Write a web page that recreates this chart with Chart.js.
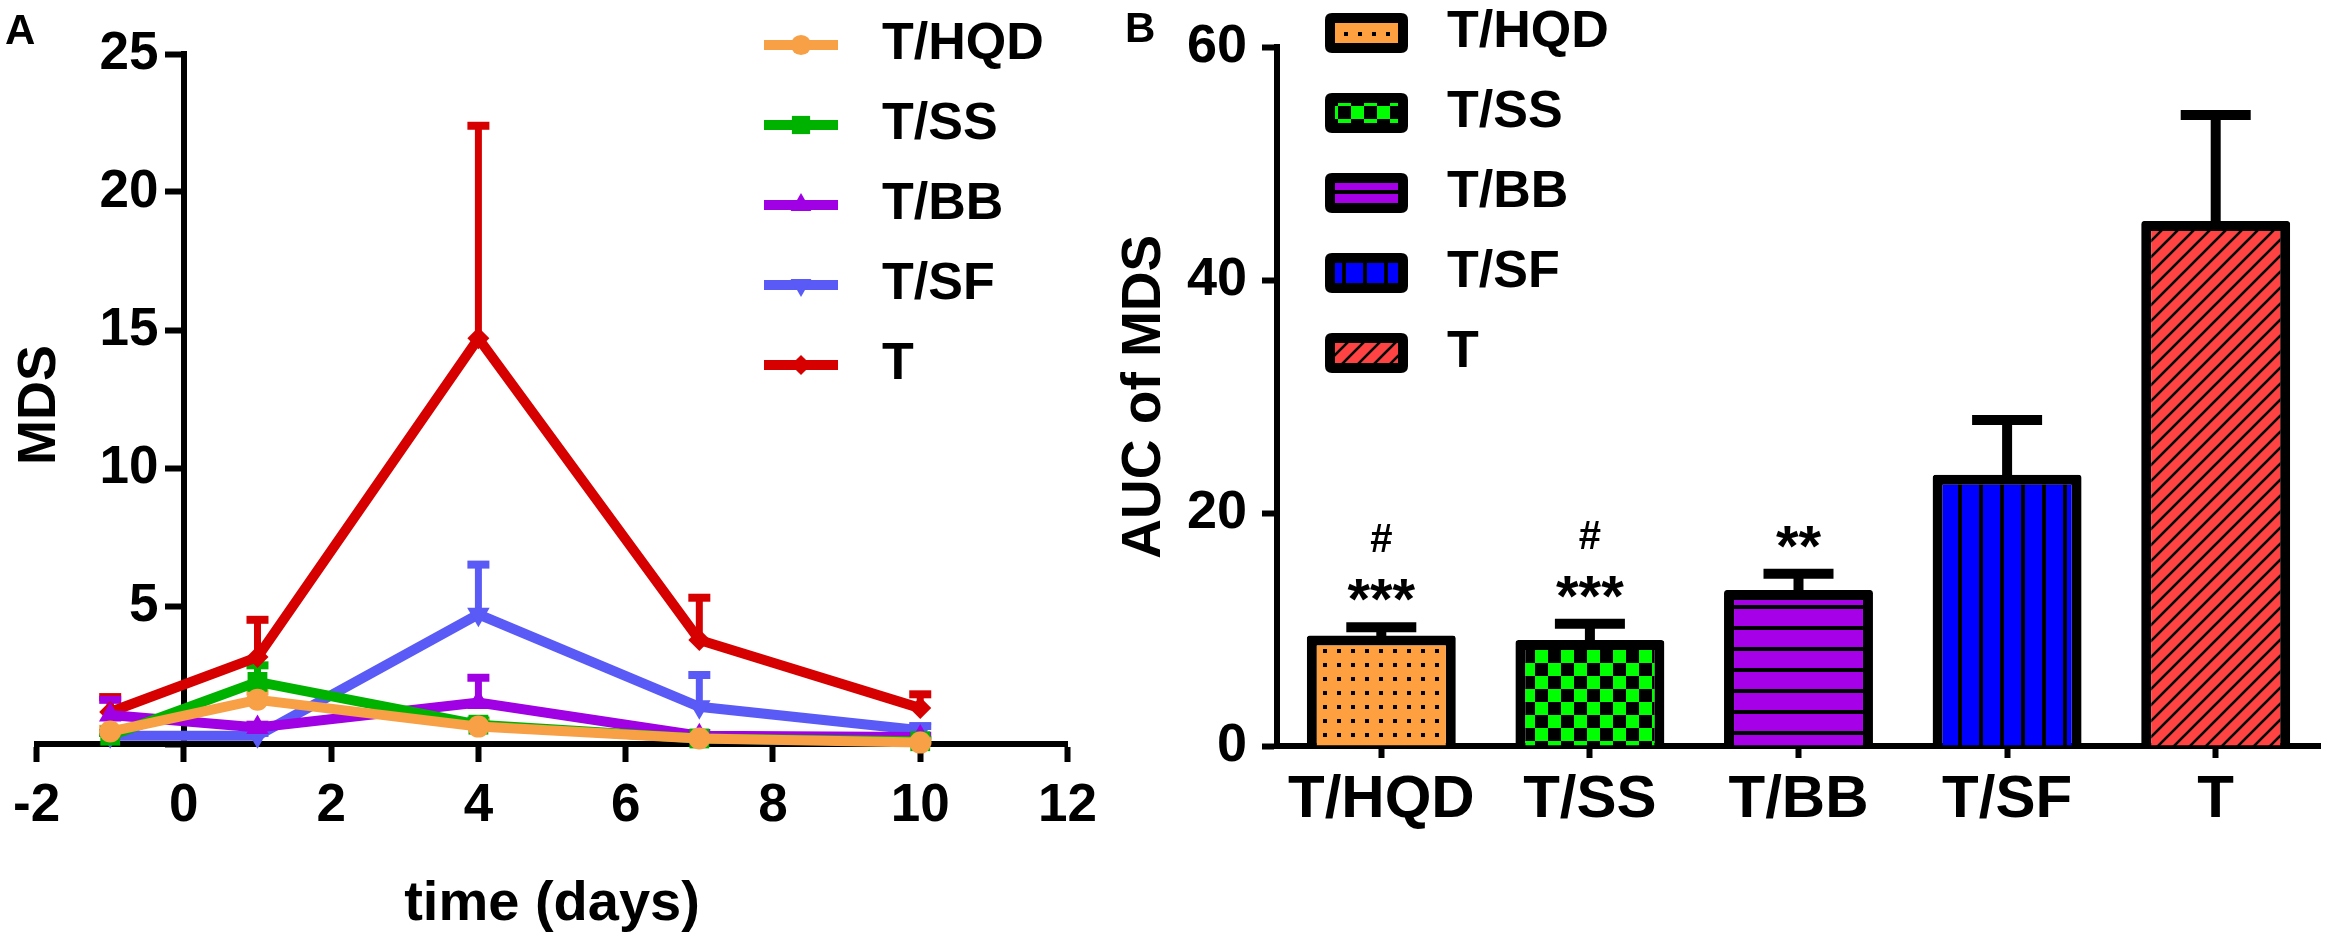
<!DOCTYPE html>
<html><head><meta charset="utf-8">
<script src="https://cdn.jsdelivr.net/npm/chart.js@4.4.1/dist/chart.umd.min.js"></script>
<style>
html,body{margin:0;padding:0;background:#fff;width:2333px;height:948px;overflow:hidden;}
#wrap{position:relative;width:2333px;height:948px;font-family:"Liberation Sans",Arial,sans-serif;color:#000;}
canvas{position:absolute;top:0;}
#cA{left:0;}
#cB{left:1080px;}
.lbl{position:absolute;font-weight:bold;line-height:1;white-space:nowrap;}
</style></head><body>
<div id="wrap">
<canvas id="cA" width="1110" height="948"></canvas>
<canvas id="cB" width="1253" height="948"></canvas>
<div class="lbl" style="left:5px;top:9px;font-size:42px;">A</div>
<div class="lbl" style="left:1125px;top:7px;font-size:42px;">B</div>
<div class="lbl" style="left:36px;top:405px;font-size:54px;transform:translate(-50%,-50%) rotate(-90deg);">MDS</div>
</div>
<script>
// ---------- data ----------
const days = [-1, 1, 4, 7, 10];
const seriesNames = ['T/HQD', 'T/SS', 'T/BB', 'T/SF', 'T'];
const mdsHQD = [0.45, 1.6, 0.63, 0.2, 0.05];
const mdsSS  = [0.3, 2.25, 0.7, 0.2, 0.1];
const mdsBB  = [1.05, 0.6, 1.5, 0.3, 0.25];
const mdsSF  = [0.3, 0.3, 4.7, 1.35, 0.5];
const mdsT   = [1.16, 3.15, 14.7, 3.77, 1.3];
const semHQD = [0.1, 0.3, 0.15, 0.1, 0.05];
const semSS  = [0.1, 0.6, 0.15, 0.1, 0.05];
const semBB  = [0.55, 0.1, 0.9, 0.1, 0.05];
const semSF  = [0.1, 0.1, 1.8, 1.15, 0.15];
const semT   = [0.54, 1.35, 7.7, 1.53, 0.5];
const xTicksA = [-2, 0, 2, 4, 6, 8, 10, 12];
const yTicksA = [0, 5, 10, 15, 20, 25];

const aucGroups = ['T/HQD', 'T/SS', 'T/BB', 'T/SF', 'T'];
const aucMean = [9.5, 9.1, 13.4, 23.3, 45.1];
const aucSEM  = [0.7, 1.4, 1.4, 4.7, 9.1];
const aucMarks = [['***', '#'], ['***', '#'], ['**'], [], []];
const yTicksB = [0, 20, 40, 60];

// ---------- styles ----------
const FONT = "'Liberation Sans', Arial, sans-serif";
Chart.defaults.font.family = FONT;
Chart.defaults.color = '#000';
const seriesA = [mdsHQD, mdsSS, mdsBB, mdsSF, mdsT];
const semA = [semHQD, semSS, semBB, semSF, semT];
const colorsA = ['#F8A046', '#00B200', '#A000E4', '#5A5AF6', '#D70000'];
const ptStyles = ['circle', 'rect', 'triangle', 'triangle', 'rectRot'];
const ptRot = [0, 0, 0, 180, 0];
const ptRad = [11, 14, 13, 13, 11];

function drawMarker(g, style, rot, r, x, y, color) {
  g.fillStyle = color; g.beginPath();
  if (style === 'circle') g.arc(x, y, r, 0, Math.PI * 2);
  else if (style === 'rect') { const s = r * Math.SQRT1_2; g.rect(x - s, y - s, 2 * s, 2 * s); }
  else if (style === 'rectRot') { g.moveTo(x, y - r); g.lineTo(x + r, y); g.lineTo(x, y + r); g.lineTo(x - r, y); }
  else if (style === 'triangle') {
    const a0 = rot * Math.PI / 180;
    for (let k = 0; k < 3; k++) {
      const a = a0 + k * 2 * Math.PI / 3;
      const px = x + Math.sin(a) * r, py = y - Math.cos(a) * r;
      if (k === 0) g.moveTo(px, py); else g.lineTo(px, py);
    }
  }
  g.closePath(); g.fill();
}
const legendImgsA = colorsA.map((c, i) => {
  const cv = document.createElement('canvas'); cv.width = 92; cv.height = 30;
  const g = cv.getContext('2d');
  g.fillStyle = c; g.fillRect(0, 10, 74, 10);
  drawMarker(g, ptStyles[i], ptRot[i], ptRad[i] * 0.92, 37, 15, c);
  return cv;
});

function makePattern(kind, color) {
  const cv = document.createElement('canvas');
  const g = cv.getContext('2d');
  if (kind === 'dots') { cv.width = 14; cv.height = 14; g.fillStyle = color; g.fillRect(0, 0, 14, 14); g.fillStyle = '#000'; g.fillRect(5, 5, 4, 4); }
  else if (kind === 'checker') { cv.width = 26; cv.height = 26; g.fillStyle = color; g.fillRect(0, 0, 26, 26); g.fillStyle = '#000'; g.fillRect(0, 0, 13, 13); g.fillRect(13, 13, 13, 13); }
  else if (kind === 'hlines') { cv.width = 8; cv.height = 21; g.fillStyle = color; g.fillRect(0, 0, 8, 21); g.fillStyle = '#000'; g.fillRect(0, 17, 8, 4); }
  else if (kind === 'vlines') { cv.width = 21; cv.height = 8; g.fillStyle = color; g.fillRect(0, 0, 21, 8); g.fillStyle = '#000'; g.fillRect(17, 0, 4, 8); }
  else if (kind === 'diag') {
    cv.width = 16; cv.height = 16; g.fillStyle = color; g.fillRect(0, 0, 16, 16);
    g.strokeStyle = '#000'; g.lineWidth = 2.6; g.beginPath();
    g.moveTo(-4, 20); g.lineTo(20, -4); g.moveTo(-12, 12); g.lineTo(12, -12); g.moveTo(4, 28); g.lineTo(28, 4); g.stroke();
  }
  return g.createPattern(cv, 'repeat');
}
const patKinds = ['dots', 'checker', 'hlines', 'vlines', 'diag'];
const colorsB = ['#FFA040', '#00FF00', '#A600E8', '#0000FF', '#FF4343'];
const patternsB = patKinds.map((k, i) => makePattern(k, colorsB[i]));

function roundRect(g, x, y, w, h, r) {
  g.beginPath(); g.moveTo(x + r, y); g.lineTo(x + w - r, y); g.quadraticCurveTo(x + w, y, x + w, y + r);
  g.lineTo(x + w, y + h - r); g.quadraticCurveTo(x + w, y + h, x + w - r, y + h); g.lineTo(x + r, y + h);
  g.quadraticCurveTo(x, y + h, x, y + h - r); g.lineTo(x, y + r); g.quadraticCurveTo(x, y, x + r, y); g.closePath();
}
const legendImgsB = patKinds.map((k, i) => {
  const cv = document.createElement('canvas'); cv.width = 96; cv.height = 40;
  const g = cv.getContext('2d');
  g.fillStyle = '#000'; roundRect(g, 0, 0, 83, 40, 7); g.fill();
  g.fillStyle = makePattern(k, colorsB[i]); g.fillRect(10, 10, 63, 20);
  return cv;
});

function legendMover(left, top) {
  return { id: 'legendMover', afterLayout(chart) {
    const l = chart.legend; if (!l) return;
    l.left = left; l.top = top; l.width = 700; l.height = 600; l.right = left + 700; l.bottom = top + 600;
  } };
}

const errA = { id: 'errA', beforeDatasetsDraw(chart) {
  const { ctx, scales: { x, y } } = chart;
  ctx.save();
  for (let i = seriesA.length - 1; i >= 0; i--) {
    ctx.strokeStyle = colorsA[i];
    days.forEach((d, j) => {
      const px = x.getPixelForValue(d);
      const p0 = y.getPixelForValue(seriesA[i][j]);
      const p1 = y.getPixelForValue(seriesA[i][j] + semA[i][j]);
      ctx.lineWidth = 7; ctx.beginPath(); ctx.moveTo(px, p0); ctx.lineTo(px, p1); ctx.stroke();
      ctx.lineWidth = 8; ctx.beginPath(); ctx.moveTo(px - 11, p1); ctx.lineTo(px + 11, p1); ctx.stroke();
    });
  }
  ctx.restore();
} };

const errB = { id: 'errB', afterDatasetsDraw(chart) {
  const { ctx, scales: { x, y } } = chart;
  ctx.save(); ctx.strokeStyle = '#000'; ctx.fillStyle = '#000'; ctx.textAlign = 'center'; ctx.textBaseline = 'alphabetic';
  aucMean.forEach((m, i) => {
    const px = x.getPixelForValue(i);
    const base = y.getPixelForValue(m);
    const top = y.getPixelForValue(m + aucSEM[i]);
    ctx.lineWidth = 10;
    ctx.beginPath(); ctx.moveTo(px, base + 5); ctx.lineTo(px, top); ctx.stroke();
    ctx.beginPath(); ctx.moveTo(px - 35, top); ctx.lineTo(px + 35, top); ctx.stroke();
    let cy = top - 41;
    aucMarks[i].forEach(mk => {
      if (mk === '#') { ctx.font = 'bold 40px ' + FONT; ctx.fillText(mk, px, cy + 14); }
      else { ctx.font = 'bold 58px ' + FONT; ctx.fillText(mk, px, cy + 33); }
      cy -= 48;
    });
  });
  ctx.restore();
} };

const tickFontA = { size: 53, weight: 'bold' };

// ---------- chart A ----------
new Chart(document.getElementById('cA'), {
  type: 'line',
  data: { datasets: seriesA.map((arr, i) => ({
    label: seriesNames[i],
    data: days.map((d, j) => ({ x: d, y: arr[j] })),
    borderColor: colorsA[i], backgroundColor: colorsA[i], borderWidth: 10,
    pointStyle: ptStyles[i], pointRotation: ptRot[i], pointRadius: ptRad[i],
    pointBorderWidth: 0, pointBackgroundColor: colorsA[i], tension: 0, clip: false
  })) },
  options: {
    responsive: false, devicePixelRatio: 1, animation: false,
    layout: { padding: { left: 0, right: 40, top: 54, bottom: 0 } },
    plugins: {
      tooltip: { enabled: false },
      legend: { position: 'chartArea', align: 'start',
        labels: { usePointStyle: true, pointStyleWidth: 92, padding: 28, color: '#000',
          font: { size: 52, weight: 'bold' },
          generateLabels: (chart) => chart.data.datasets.map((ds, i) => ({
            text: ds.label, pointStyle: legendImgsA[i], fillStyle: ds.borderColor,
            strokeStyle: ds.borderColor, lineWidth: 0, hidden: false, datasetIndex: i })) } }
    },
    scales: {
      x: { type: 'linear', position: 'bottom', min: xTicksA[0], max: xTicksA[xTicksA.length - 1],
        afterBuildTicks: (s) => { s.ticks = xTicksA.map(v => ({ value: v })); },
        ticks: { font: tickFontA, color: '#000', padding: 13, maxRotation: 0, autoSkip: false },
        grid: { drawOnChartArea: false, tickLength: 18, tickWidth: 6, tickColor: '#000' },
        border: { color: '#000', width: 6 },
        title: { display: true, text: 'time (days)', color: '#000', font: { size: 56, weight: 'bold' }, padding: { top: 0, bottom: 10 } },
        afterFit: (s) => { s.height = 204; } },
      y: { type: 'linear', position: { x: 0 }, min: yTicksA[0], max: yTicksA[yTicksA.length - 1],
        afterBuildTicks: (s) => { s.ticks = yTicksA.map(v => ({ value: v })); },
        ticks: { display: false },
        grid: { drawOnChartArea: false, tickLength: 16, tickWidth: 6, tickColor: '#000' },
        border: { color: '#000', width: 6 } },
      yLabels: { axis: 'y', type: 'linear', position: 'left', min: yTicksA[0], max: yTicksA[yTicksA.length - 1],
        afterBuildTicks: (s) => { s.ticks = yTicksA.map(v => ({ value: v })); },
        ticks: { font: tickFontA, color: '#000', mirror: true, crossAlign: 'far', padding: 63, autoSkip: false,
          callback: (v) => v === 0 ? '' : String(v) },
        grid: { display: false, drawTicks: false },
        border: { display: false },
        afterFit: (s) => { s.width = 28; s.paddingTop = 0; s.paddingBottom = 0; } }
    }
  },
  plugins: [errA, legendMover(736, -9)]
});

// ---------- chart B ----------
new Chart(document.getElementById('cB'), {
  type: 'bar',
  data: { labels: aucGroups, datasets: [{ label: 'AUC of MDS', data: aucMean,
    backgroundColor: patternsB, borderColor: '#000', borderWidth: 10, borderSkipped: 'start', borderRadius: 3,
    barPercentage: 0.714, categoryPercentage: 1 }] },
  options: {
    responsive: false, devicePixelRatio: 1, animation: false,
    layout: { padding: { left: 0, right: 13, top: 47, bottom: 0 } },
    plugins: {
      tooltip: { enabled: false },
      legend: { position: 'chartArea', align: 'start',
        labels: { usePointStyle: true, pointStyleWidth: 96, padding: 28, color: '#000',
          font: { size: 52, weight: 'bold' },
          generateLabels: () => aucGroups.map((gname, i) => ({
            text: gname, pointStyle: legendImgsB[i], fillStyle: '#000', strokeStyle: '#000',
            lineWidth: 0, hidden: false, index: i })) } }
    },
    scales: {
      x: { ticks: { font: { size: 60, weight: 'bold' }, color: '#000', padding: 6, maxRotation: 0, autoSkip: false },
        grid: { drawOnChartArea: false, offset: false, tickLength: 12, tickWidth: 6, tickColor: '#000' },
        border: { color: '#000', width: 6 },
        afterFit: (s) => { s.height = 202; } },
      y: { min: yTicksB[0], max: yTicksB[yTicksB.length - 1],
        afterBuildTicks: (s) => { s.ticks = yTicksB.map(v => ({ value: v })); },
        ticks: { font: { size: 54, weight: 'bold' }, color: '#000', padding: 15, autoSkip: false },
        grid: { drawOnChartArea: false, tickLength: 15, tickWidth: 6, tickColor: '#000' },
        border: { color: '#000', width: 6 },
        title: { display: true, text: 'AUC of MDS', color: '#000', font: { size: 55, weight: 'bold' }, padding: { top: 32, bottom: 0 } },
        afterFit: (s) => { s.width = 197; } }
    }
  },
  plugins: [errB, legendMover(217, -21)]
});
</script>
</body></html>
